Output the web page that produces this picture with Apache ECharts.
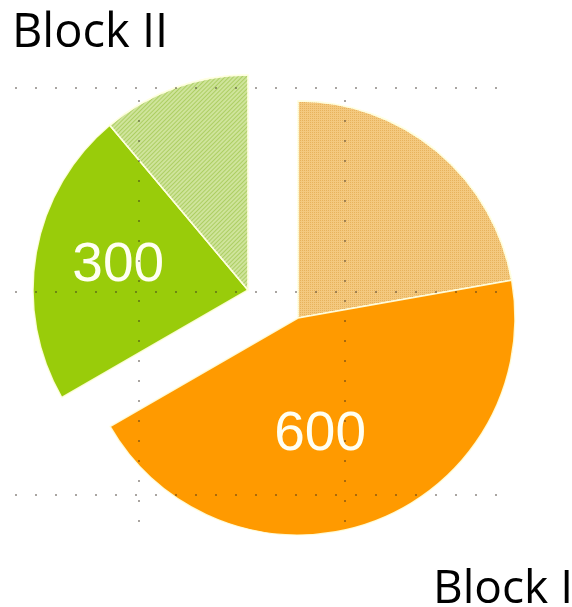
<!DOCTYPE html>
<html>
<head>
<meta charset="utf-8">
<script src="https://cdn.jsdelivr.net/npm/echarts@6/dist/echarts.min.js"></script>
<style>
html,body{margin:0;padding:0;background:#fff;}
#c{width:572px;height:607px;}
</style>
</head>
<body>
<div id="c"></div>
<script>
// ---- data ----
const categories = ['I-a', 'I-b', 'II-a', 'II-b'];
const values = [300, 600, 300, 150];
const blockOf = ['Block I', 'Block I', 'Block II', 'Block II'];
const showValue = [false, true, true, false];
const blockTitles = ['Block II', 'Block I'];

// ---- styling (not data) ----
const sliceColors = {
  'I-a': '#f4c97f',
  'I-b': '#ff9a00',
  'II-a': '#99cc0a',
  'II-b': '#cfe49b'
};
const sliceDecal = {
  'I-a': { symbol: 'rect', symbolSize: 1, dashArrayX: [1, 1], dashArrayY: [1, 1], color: 'rgba(214,150,50,0.45)', rotation: 0 },
  'II-a': null,
  'I-b': null,
  'II-b': { symbol: 'rect', symbolSize: 1, dashArrayX: [1, 0], dashArrayY: [1, 2], color: 'rgba(130,180,30,0.45)', rotation: -Math.PI / 4 }
};
const labelOffsets = { 'I-b': [-16, 12], 'II-a': [-21, -5] };
const blockCenters = { 'Block I': [298, 318], 'Block II': [248, 290] };
const blockRadius = { 'Block I': 217, 'Block II': 215 };

function buildData(block) {
  return categories.map((name, i) => {
    const mine = blockOf[i] === block;
    const item = { name: name, value: values[i] };
    if (mine) {
      item.itemStyle = { color: sliceColors[name] };
      if (sliceDecal[name]) item.itemStyle.decal = sliceDecal[name];
      item.label = { show: showValue[i], offset: labelOffsets[name] || [0, 0] };
    } else {
      item.itemStyle = { color: 'rgba(0,0,0,0)', borderWidth: 0 };
      item.label = { show: false };
    }
    return item;
  });
}

const dotted = { color: 'rgba(50,40,30,0.42)', width: 2, type: [2, 18] };

const chart = echarts.init(document.getElementById('c'), null, { renderer: 'canvas' });
chart.setOption({
  animation: false,
  backgroundColor: '#ffffff',
  title: [
    { text: blockTitles[0], left: 12, top: 10, padding: 0,
      textStyle: { fontFamily: 'Open Sans', fontSize: 47, fontWeight: 'normal', color: '#000' } },
    { text: blockTitles[1], right: -1, bottom: -6, padding: 0,
      textStyle: { fontFamily: 'Open Sans', fontSize: 46, fontWeight: 'normal', color: '#000' } }
  ],
  grid: [
    { left: 15, right: 57, top: 88, bottom: 112, show: false },
    { left: 139, width: 206, top: 100, bottom: 70, show: false }
  ],
  xAxis: [
    { gridIndex: 0, type: 'value', min: 0, max: 1, show: true, axisLine: { show: false }, axisTick: { show: false }, axisLabel: { show: false }, splitLine: { show: false } },
    { gridIndex: 1, type: 'value', min: 0, max: 1, interval: 1, z: 5, axisLine: { show: false }, axisTick: { show: false }, axisLabel: { show: false }, splitLine: { show: true, lineStyle: dotted } }
  ],
  yAxis: [
    { gridIndex: 0, type: 'value', min: 0, max: 2, interval: 1, z: 5, axisLine: { show: false }, axisTick: { show: false }, axisLabel: { show: false }, splitLine: { show: true, lineStyle: dotted } },
    { gridIndex: 1, type: 'value', min: 0, max: 1, show: true, axisLine: { show: false }, axisTick: { show: false }, axisLabel: { show: false }, splitLine: { show: false } }
  ],
  series: ['Block I', 'Block II'].map(block => ({
    type: 'pie',
    name: block,
    z: 2,
    center: blockCenters[block],
    radius: [0, blockRadius[block]],
    startAngle: 90,
    clockwise: true,
    silent: true,
    emphasis: { disabled: true },
    itemStyle: { borderColor: 'rgba(255,255,225,0.9)', borderWidth: 1.5 },
    label: {
      position: 'inside',
      formatter: '{c}',
      color: '#fffff2',
      fontFamily: 'Liberation Sans',
      fontSize: 55,
      textBorderWidth: 0
    },
    labelLine: { show: false },
    data: buildData(block)
  }))
});
</script>
</body>
</html>
